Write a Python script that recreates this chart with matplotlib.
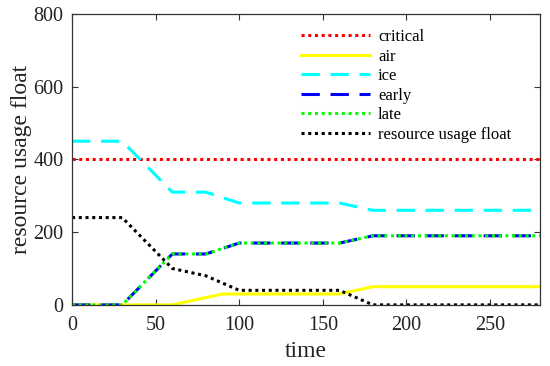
import matplotlib

matplotlib.use("Agg")
import matplotlib.pyplot as plt

# values
time_critical = [0, 280]
critical = [400, 400]

time_air = [0, 60, 90, 160, 180, 280]
air = [0, 0, 30, 30, 50, 50]

time_ice = [0, 30, 60, 80, 100, 160, 180, 280]
ice = [450, 450, 310, 310, 280, 280, 260, 260]

time_start = [0, 30, 60, 80, 100, 160, 180, 280]
early = [0, 0, 140, 140, 170, 170, 190, 190]
late = [0, 0, 140, 140, 170, 170, 190, 190]

time_float = [0, 30, 60, 80, 100, 160, 180, 280]
usage_float = [240, 240, 100, 80, 40, 40, 0, 0]

labels = ["critical", "air", "ice", "early", "late", "resource usage float"]
x_ticks = [0, 50, 100, 150, 200, 250]
y_ticks = [0, 200, 400, 600, 800]


def main() -> None:
    plt.rcParams["font.family"] = ["Liberation Serif", "DejaVu Serif"]

    fig = plt.figure(figsize=(5.5, 3.66), dpi=100)
    ax = fig.add_axes([0.131, 0.167, 0.851, 0.795])

    lw = 2.2
    dot = (0, (1.0, 1.2))
    dash = (0, (6.0, 3.5))
    ax.plot(time_critical, critical, color="#ff0000", lw=lw, linestyle=dot, label=labels[0])
    ax.plot(time_air, air, color="#ffff00", lw=lw, linestyle="-", label=labels[1])
    ax.plot(time_ice, ice, color="#00ffff", lw=lw, linestyle=dash, label=labels[2])
    ax.plot(time_start, early, color="#0000ff", lw=lw, linestyle=dash, label=labels[3])
    ax.plot(time_start, late, color="#00ff00", lw=lw, linestyle=dot, label=labels[4])
    ax.plot(time_float, usage_float, color="#000000", lw=lw, linestyle=dot, label=labels[5])

    ax.set_xlim(0, 280)
    ax.set_ylim(0, 800)
    ax.set_xticks(x_ticks)
    ax.set_yticks(y_ticks)
    ax.tick_params(direction="in", top=True, right=True, labelsize=14.5,
                   length=4, width=0.8, colors="#333333", labelcolor="#222222")
    ax.tick_params(axis="x", pad=8)
    ax.tick_params(axis="y", pad=6)
    for spine in ax.spines.values():
        spine.set_color("#333333")
        spine.set_linewidth(0.9)

    ax.set_xlabel("time", fontsize=17, color="#222222", labelpad=4)
    ax.set_ylabel("resource usage float", fontsize=17, color="#222222", labelpad=1)

    ax.legend(
        loc="upper left",
        bbox_to_anchor=(0.49, 0.947),
        frameon=False,
        fontsize=12,
        handlelength=4.1,
        handletextpad=0.5,
        labelspacing=0.21,
        borderpad=0,
        borderaxespad=0,
    )

    fig.savefig("out.png", dpi=100)
    plt.close(fig)


if __name__ == "__main__":
    main()
